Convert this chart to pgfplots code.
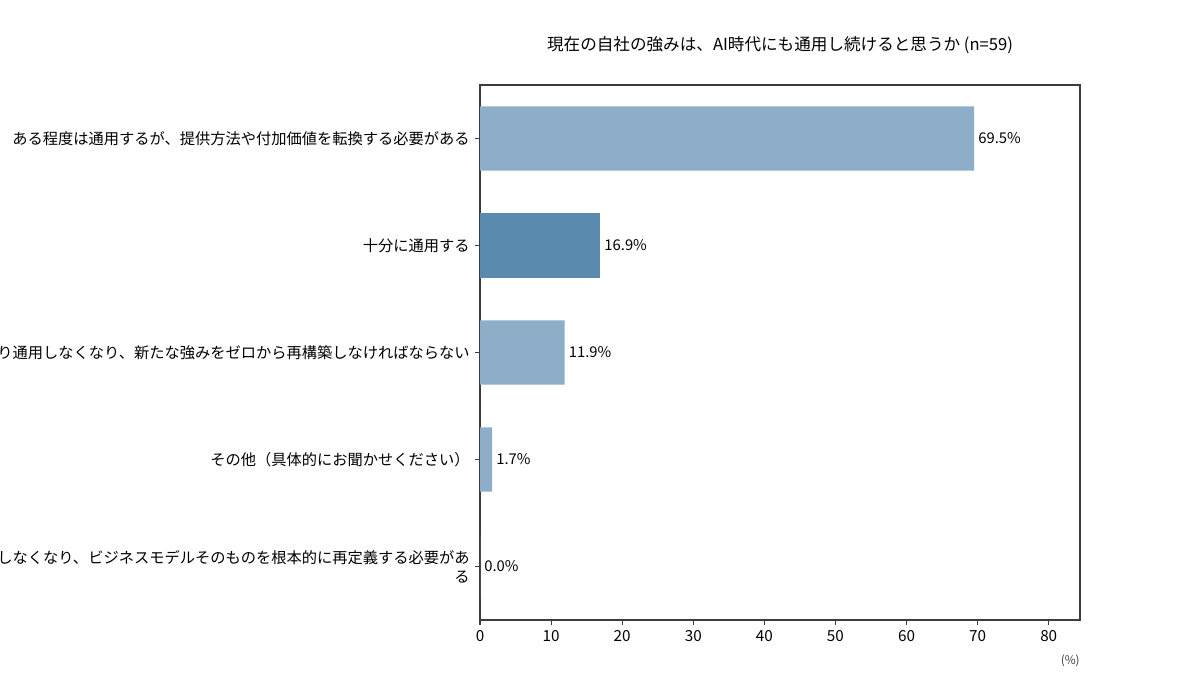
\documentclass[border=0pt]{standalone}
\usepackage{pgfplots}
\pgfplotsset{compat=1.18}
\usepackage{fontspec}
\setmainfont{Noto Sans CJK JP}
\definecolor{lightbar}{HTML}{8EADC8}
\definecolor{darkbar}{HTML}{5B8AAF}
\definecolor{axgray}{HTML}{3C3C3C}
\begin{document}
\begin{tikzpicture}[x=1pt,y=1pt]
\path[use as bounding box] (0,0) rectangle (810pt,471.825pt);
\begin{axis}[
  at={(324pt,53.325pt)}, anchor=south west,
  width=405pt, height=361.125pt, scale only axis,
  xbar, bar width=0.6, bar shift=0pt,
  xmin=0, xmax=84.4, ymin=-0.5, ymax=4.5, y dir=reverse,
  xtick={0,10,...,80},
  ytick={0,1,2,3,4},
  yticklabels={ある程度は通用するが、提供方法や付加価値を転換する必要がある,十分に通用する,り通用しなくなり、新たな強みをゼロから再構築しなければならない,その他（具体的にお聞かせください）,{しなくなり、ビジネスモデルそのものを根本的に再定義する必要があ\\る}},
  yticklabel style={align=right, font=\fontsize{10.3}{13}\selectfont},
  xticklabel style={font=\fontsize{10.3}{12}\selectfont},
  /pgf/number format/assume math mode=true,
  tick align=outside, xtick pos=bottom, ytick pos=left,
  major tick length=3.4pt,
  axis line style={axgray, line width=0.8pt},
  tick style={axgray, line width=0.8pt},
  point meta=x,
  nodes near coords={\pgfmathprintnumber[fixed,precision=1,fixed zerofill]{\pgfplotspointmeta}\%},
  nodes near coords style={anchor=west, font=\fontsize{10}{12}\selectfont, inner sep=2.7pt, black},
  clip=false,
]
\addplot[draw=none, fill=lightbar] coordinates {(69.5,0) (11.9,2) (1.7,3) (0.0,4)};
\addplot[draw=none, fill=darkbar] coordinates {(16.9,1)};
\end{axis}
\node[font=\fontsize{11.2}{13}\selectfont] at (526.5pt,441.45pt) {現在の自社の強みは、AI時代にも通用し続けると思うか (n=59)};
\node[anchor=east, font=\fontsize{8}{9}\selectfont, text=axgray, inner sep=0pt] at (729pt,25.65pt) {(\%)};
\end{tikzpicture}
\end{document}
